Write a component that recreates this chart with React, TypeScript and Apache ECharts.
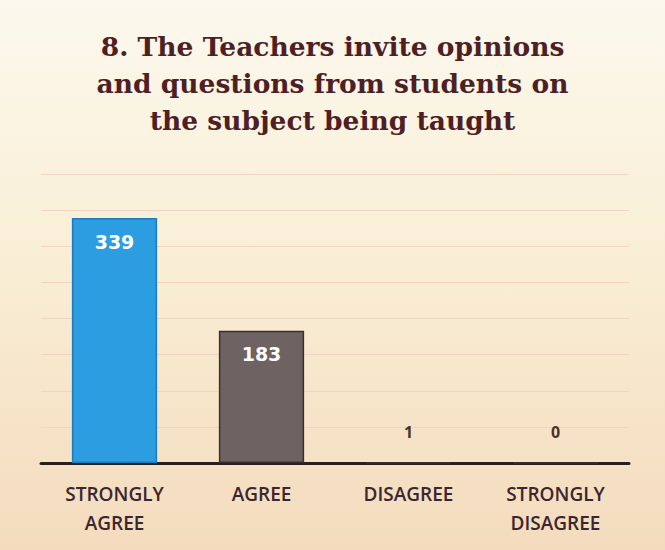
import React, { useEffect, useRef } from "react";
import * as echarts from "echarts";

const titleLines = [
  "8. The Teachers invite opinions",
  "and questions from students on",
  "the subject being taught",
];
const categories = ["STRONGLY\nAGREE", "AGREE", "DISAGREE", "STRONGLY\nDISAGREE"];
const values = [339, 183, 1, 0];
const barColors = ["#2b9de0", "#6f6262", "#6f6262", "#6f6262"];
const barBorders = ["#1b7cc0", "#3a2e2e", "#3a2e2e", "#3a2e2e"];

export default function App() {
  const ref = useRef<HTMLDivElement>(null);
  useEffect(() => {
    if (!ref.current) return;
    const chart = echarts.init(ref.current, null, { renderer: "svg" });
    chart.setOption({
      animation: false,
      backgroundColor: {
        type: "linear",
        x: 0,
        y: 0,
        x2: 0,
        y2: 1,
        colorStops: [
          { offset: 0, color: "#fcf8ee" },
          { offset: 0.45, color: "#f9efd6" },
          { offset: 1, color: "#f4dbbd" },
        ],
      },
      title: {
        text: titleLines.join("\n"),
        left: "center",
        top: 23,
        textStyle: {
          fontFamily: "DejaVu Serif",
          fontWeight: "bold",
          fontSize: 26.5,
          lineHeight: 37,
          color: "#4e1f24",
        },
      },
      grid: { left: 41, right: 36, top: 174, bottom: 87, containLabel: false },
      xAxis: {
        type: "category",
        data: categories,
        axisLine: { lineStyle: { color: "#2a1e1e", width: 3 } },
        axisTick: { show: false },
        axisLabel: {
          interval: 0,
          margin: 16,
          lineHeight: 29,
          fontFamily: "Open Sans",
          fontWeight: 600,
          fontSize: 19,
          color: "#3b2630",
        },
      },
      yAxis: {
        type: "value",
        min: 0,
        max: 400,
        interval: 50,
        axisLabel: { show: false },
        axisLine: { show: false },
        axisTick: { show: false },
        splitLine: { lineStyle: { color: "#f0d4c4", width: 1 } },
      },
      series: [
        {
          type: "bar",
          barWidth: "58%",
          data: values.map((v, i) => ({
            value: v,
            itemStyle: {
              color: barColors[i],
              borderColor: barBorders[i],
              borderWidth: 1.5,
            },
            label:
              v > 50
                ? {
                    show: true,
                    position: "insideTop",
                    distance: 14,
                    color: "#ffffff",
                    fontWeight: "bold",
                    fontSize: 19,
                    fontFamily: "DejaVu Sans",
                  }
                : {
                    show: true,
                    position: "top",
                    distance: 22,
                    color: "#4a3228",
                    fontWeight: "bold",
                    fontSize: 16,
                    fontFamily: "Open Sans",
                  },
          })),
        },
      ],
    });
    return () => chart.dispose();
  }, []);
  return (
    <div
      ref={ref}
      style={{ position: "fixed", left: 0, top: 0, width: 665, height: 550 }}
    />
  );
}
